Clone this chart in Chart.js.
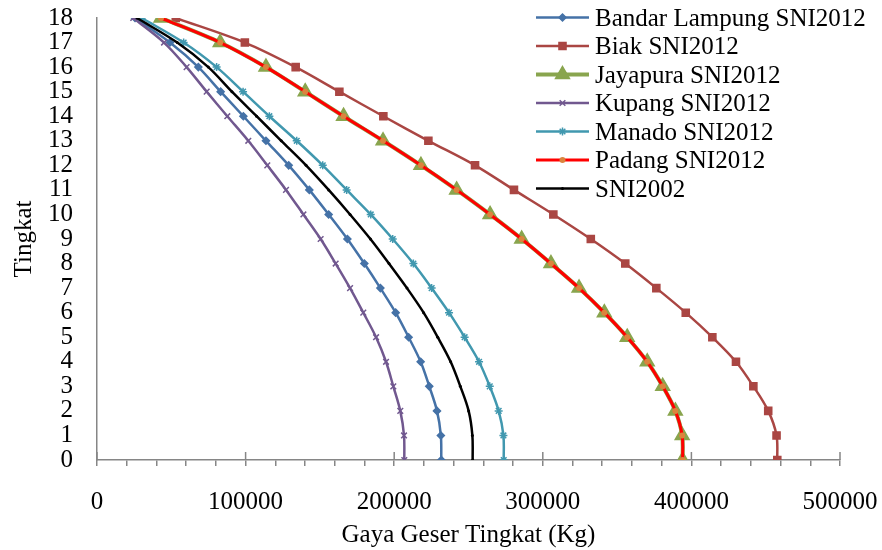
<!DOCTYPE html>
<html lang="en">
<head>
  <meta charset="UTF-8" />
  <title>Gaya Geser Tingkat</title>
  <script src="https://cdn.jsdelivr.net/npm/chart.js"></script>
  <style>
    body { margin: 0; background: white; }
    .wrap { width: 882px; height: 550px; }
  </style>
</head>
<body>
  <div class="wrap"><canvas id="shearChart" width="882" height="550"></canvas></div>

  <script>
    // floor levels, 0 (base) to 18 (roof)
    const floors = [0, 1, 2, 3, 4, 5, 6, 7, 8, 9, 10, 11, 12, 13, 14, 15, 16, 17, 18];

    // storey shear (Kg), floor 0 -> 18
    const bandarLampung = [231700, 231400, 228800, 223600, 217800, 209700, 201000, 190700, 179900, 168500, 155900, 142900, 129000, 113700, 98500, 83200, 68200, 49100, 25600];
    const biak = [457800, 457300, 451700, 441700, 430000, 414100, 396200, 376400, 355500, 332300, 307100, 280600, 254400, 223000, 192700, 163100, 133700, 99500, 53000];
    const jayapura = [394100, 393800, 389200, 380700, 370300, 356800, 341400, 324400, 305500, 285800, 264500, 242000, 218000, 192500, 165900, 140100, 113700, 82900, 43100];
    const kupang = [206800, 206600, 204100, 199400, 194500, 187800, 179200, 170300, 160600, 150500, 138900, 127200, 114600, 101800, 87700, 73800, 60300, 45100, 24400];
    const manado = [273700, 273500, 270300, 264300, 257100, 247400, 236900, 225200, 212900, 199000, 184200, 168000, 151900, 134400, 116000, 98300, 80500, 58300, 30100];
    const padang = [394100, 393800, 389200, 380700, 370300, 356800, 341400, 324400, 305500, 285800, 264500, 242000, 218000, 192500, 165900, 140100, 113700, 82900, 43100];
    const sni2002 = [252800, 252600, 250100, 244500, 238000, 229300, 219800, 208600, 196500, 184000, 170300, 155900, 140700, 124000, 107400, 90800, 74900, 54000, 26900];

    const seriesNames = ['Bandar Lampung SNI2012', 'Biak SNI2012', 'Jayapura SNI2012', 'Kupang SNI2012', 'Manado SNI2012', 'Padang SNI2012', 'SNI2002'];
    const xTicks = [0, 100000, 200000, 300000, 400000, 500000];

    const toPoints = arr => floors.map((f, i) => ({ x: arr[i], y: f }));
    const serif = 'Liberation Serif';
    const fontSize = 25;

    function series(i, arr, color, width, style, radius, fill, order) {
      return {
        label: seriesNames[i],
        data: toPoints(arr),
        showLine: true,
        borderColor: color,
        borderWidth: width,
        pointStyle: style,
        pointRadius: radius,
        pointBackgroundColor: fill,
        pointBorderColor: fill,
        pointBorderWidth: 1.5,
        tension: 0.33,
        order: order
      };
    }

    const datasets = [
      series(0, bandarLampung, '#4572A7', 2.5, 'rectRot', 3.5, '#4572A7', 6),
      series(1, biak, '#AA4643', 2.5, 'rect', 5, '#AA4643', 5),
      series(2, jayapura, '#89A54E', 4, 'triangle', 8, '#89A54E', 4),
      series(3, kupang, '#71588F', 2.5, 'crossRot', 4, '#71588F', 3),
      series(4, manado, '#4198AF', 2.5, 'star', 4, '#4198AF', 2),
      series(5, padang, '#FF0000', 3, 'circle', 3, '#DB843D', 1),
      series(6, sni2002, '#000000', 2.5, 'circle', 1.5, '#000000', 0)
    ];
    datasets[5].pointBorderWidth = 0;
    datasets[6].pointBorderWidth = 0;

    // major x ticks cross the axis, minor ones only hang below it
    const majorTicks = {
      id: 'majorTicks',
      afterDraw(chart) {
        const { ctx, scales: { x } } = chart;
        const y0 = chart.chartArea.bottom;
        ctx.save();
        ctx.strokeStyle = '#868686';
        ctx.lineWidth = 1.5;
        xTicks.forEach(v => {
          const px = x.getPixelForValue(v);
          ctx.beginPath();
          ctx.moveTo(px, y0 - 8);
          ctx.lineTo(px, y0);
          ctx.stroke();
        });
        ctx.restore();
      }
    };

    // Excel style legend: short line with marker, text to the right
    const sideLegend = {
      id: 'sideLegend',
      afterDraw(chart) {
        const { ctx } = chart;
        const x0 = 536, x1 = 589, top = 17.5, step = 28.5;
        ctx.save();
        chart.data.datasets.forEach((ds, i) => {
          const y = top + i * step;
          ctx.strokeStyle = ds.borderColor;
          ctx.lineWidth = ds.borderWidth;
          ctx.beginPath();
          ctx.moveTo(x0, y);
          ctx.lineTo(x1, y);
          ctx.stroke();
          ctx.fillStyle = ds.pointBackgroundColor;
          ctx.strokeStyle = ds.pointBorderColor;
          ctx.lineWidth = ds.pointBorderWidth || 0.01;
          Chart.helpers.drawPoint(ctx, { pointStyle: ds.pointStyle, radius: ds.pointRadius, rotation: 0, borderWidth: ds.pointBorderWidth }, (x0 + x1) / 2, y);
          ctx.fillStyle = '#000';
          ctx.font = fontSize + 'px "' + serif + '"';
          ctx.textBaseline = 'middle';
          ctx.textAlign = 'left';
          ctx.fillText(ds.label, 595, y + 1.5);
        });
        ctx.restore();
      }
    };

    new Chart(document.getElementById('shearChart'), {
      type: 'scatter',
      data: { datasets },
      plugins: [majorTicks, sideLegend],
      options: {
        responsive: false,
        animation: false,
        layout: { padding: { left: 0, right: 42, top: 18, bottom: 0 } },
        plugins: {
          legend: { display: false },
          tooltip: { enabled: false }
        },
        scales: {
          x: {
            type: 'linear',
            min: 0,
            max: 500000,
            afterFit(scale) {
              scale.height = 90;
              scale.paddingLeft = 0;
              scale.paddingRight = 0;
            },
            border: { color: '#868686', width: 1.5 },
            grid: { drawOnChartArea: false, drawTicks: true, tickLength: 6, color: '#868686', lineWidth: 1.5 },
            afterBuildTicks(scale) {
              scale.ticks = [];
              for (let v = 0; v <= 500000; v += 20000) scale.ticks.push({ value: v });
            },
            ticks: {
              autoSkip: false,
              maxRotation: 0,
              padding: 21,
              color: '#000',
              font: { family: serif, size: fontSize },
              callback: v => (xTicks.includes(v) ? String(v) : '')
            },
            title: {
              display: true,
              text: 'Gaya Geser Tingkat (Kg)',
              color: '#000',
              font: { family: serif, size: fontSize },
              padding: { top: 0, bottom: 0 }
            }
          },
          y: {
            type: 'linear',
            min: 0,
            max: 18,
            afterFit(scale) {
              scale.width = 97;
              scale.paddingTop = 0;
              scale.paddingBottom = 0;
            },
            border: { color: '#868686', width: 1.5 },
            grid: { display: false, drawTicks: false },
            ticks: {
              stepSize: 1,
              autoSkip: false,
              padding: 24,
              color: '#000',
              font: { family: serif, size: fontSize }
            },
            title: {
              display: true,
              text: 'Tingkat',
              color: '#000',
              font: { family: serif, size: fontSize },
              padding: { top: 9, bottom: 0 }
            }
          }
        }
      }
    });
  </script>
</body>
</html>
